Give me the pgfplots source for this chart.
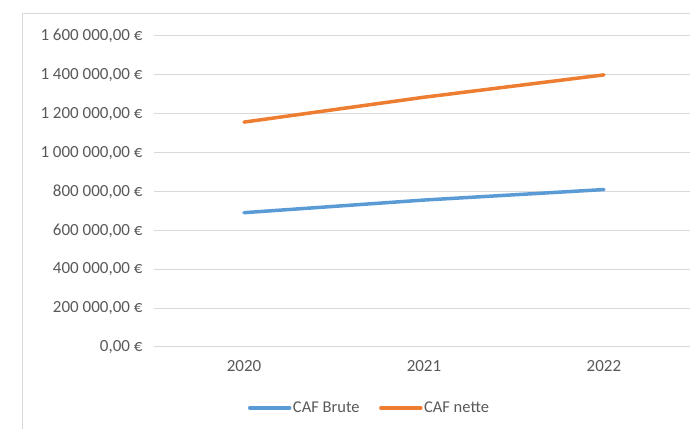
\documentclass[border=0pt]{standalone}
\usepackage{pgfplots}
\pgfplotsset{compat=1.18}
\usepackage{fontspec}
\setmainfont{Carlito}
\definecolor{txtc}{HTML}{595959}
\definecolor{gridc}{HTML}{D9D9D9}
\definecolor{cblue}{HTML}{5B9BD5}
\definecolor{corange}{HTML}{ED7D31}
\begin{document}
\begin{tikzpicture}[x=1pt,y=1pt]
\path[use as bounding box] (0,0) rectangle (690,428);
\draw[gridc, line width=1pt] (22,-5) -- (22,414) -- (700,414);
\begin{axis}[
  at={(154pt,81pt)}, anchor=south west,
  scale only axis, width=536pt, height=311pt,
  xmin=-0.5, xmax=2.478, ymin=0, ymax=1600000,
  scaled ticks=false,
  axis line style={draw=none},
  tick style={draw=none},
  xtick={0,1,2}, xticklabels={2020,2021,2022},
  ytick={0,200000,400000,600000,800000,1000000,1200000,1400000,1600000},
  yticklabels={{0,00~€},{200~000,00~€},{400~000,00~€},{600~000,00~€},{800~000,00~€},{1~000~000,00~€},{1~200~000,00~€},{1~400~000,00~€},{1~600~000,00~€}},
  ymajorgrids=true, xmajorgrids=false,
  major grid style={draw=gridc, line width=1pt},
  ticklabel style={font=\fontsize{17}{19}\selectfont, text=txtc},
  yticklabel style={xshift=-8pt},
  xticklabel style={yshift=-10pt},
  legend style={at={(0.4016,-0.196)}, anchor=center, legend columns=2, draw=none, fill=none,
    font=\fontsize{16.5}{19}\selectfont, text=txtc,
    nodes={inner xsep=1.5pt},
    /tikz/every even column/.append style={column sep=18pt}},
  legend image code/.code={\draw[#1] (0pt,0pt) -- (40pt,0pt);},
  clip=false,
]
\addplot[cblue, line width=3.5pt, line cap=round] coordinates {(0,691000) (1,756000) (2,810000)};
\addlegendentry{CAF Brute}
\addplot[corange, line width=3.5pt, line cap=round] coordinates {(0,1157000) (1,1285000) (2,1400000)};
\addlegendentry{CAF nette}
\end{axis}
\end{tikzpicture}
\end{document}
